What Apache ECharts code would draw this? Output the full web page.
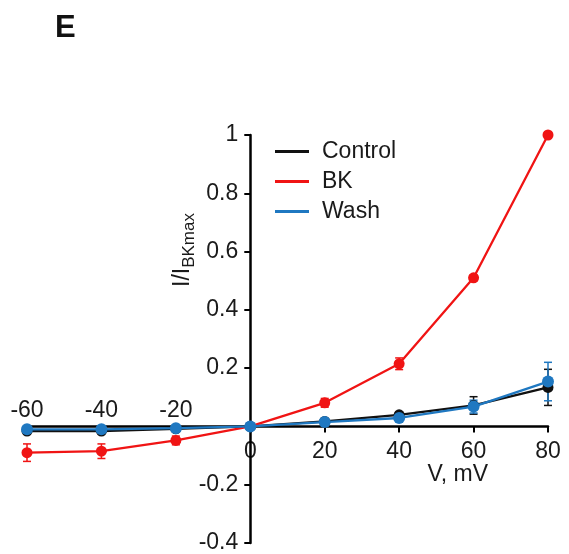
<!DOCTYPE html>
<html>
<head>
<meta charset="utf-8">
<script src="https://cdn.jsdelivr.net/npm/echarts@6/dist/echarts.min.js"></script>
<style>
  html, body { margin: 0; padding: 0; background: #fff; }
</style>
</head>
<body>
<div style="width:569px;height:554px;" id="iv_chart"></div>
<script>
  // voltage steps (mV)
  var voltages = [-60, -40, -20, 0, 20, 40, 60, 80]
  var controlMean = [-0.016, -0.016, -0.008, 0, 0.017, 0.04, 0.072, 0.134]
  var controlErr = [0.004, 0.004, 0.003, 0, 0.005, 0.01, 0.03, 0.062]
  var bkMean = [-0.09, -0.085, -0.048, 0, 0.081, 0.215, 0.51, 1.0]
  var bkErr = [0.03, 0.025, 0.015, 0, 0.015, 0.02, 0.01, 0.005]
  var washMean = [-0.01, -0.01, -0.006, 0, 0.015, 0.029, 0.068, 0.154]
  var washErr = [0.003, 0.003, 0.003, 0, 0.004, 0.006, 0.022, 0.066]
  var yTicks = [-0.4, -0.2, 0, 0.2, 0.4, 0.6, 0.8, 1]

  var chart = echarts.init(document.getElementById('iv_chart'))
  var font = 'Liberation Sans, Arial, sans-serif'

  // grid box, the axes cross at (0, 0) inside it
  var G = { left: 27, right: 21, top: 135, bottom: 11 }
  var W = 569 - G.left - G.right, H = 554 - G.top - G.bottom
  var xMin = -60, xMax = 80, yMin = yTicks[0], yMax = yTicks[yTicks.length - 1]
  var zeroX = W * (0 - xMin) / (xMax - xMin)
  var zeroY = H * (yMax - 0) / (yMax - yMin)

  function pairs(means) {
    return voltages.map(function (v, i) { return [v, means[i]] })
  }
  function errData(means, errs) {
    return voltages.map(function (v, i) { return [v, means[i] - errs[i], means[i] + errs[i]] })
  }
  function errSeries(name, color, means, errs) {
    return {
      name: name + ' sem',
      type: 'custom',
      data: errData(means, errs),
      z: 2,
      itemStyle: { color: color },
      renderItem: function (params, api) {
        var lo = api.coord([api.value(0), api.value(1)])
        var hi = api.coord([api.value(0), api.value(2)])
        var w = 4
        var st = { stroke: color, lineWidth: 1.5 }
        return {
          type: 'group',
          children: [
            { type: 'line', shape: { x1: lo[0], y1: lo[1], x2: hi[0], y2: hi[1] }, style: st },
            { type: 'line', shape: { x1: lo[0] - w, y1: lo[1], x2: lo[0] + w, y2: lo[1] }, style: st },
            { type: 'line', shape: { x1: hi[0] - w, y1: hi[1], x2: hi[0] + w, y2: hi[1] }, style: st }
          ]
        }
      }
    }
  }
  function lineSeries(name, color, means, size) {
    return {
      name: name,
      type: 'line',
      data: pairs(means),
      symbol: 'circle',
      symbolSize: size,
      z: 3,
      lineStyle: { color: color, width: 2.3 },
      itemStyle: { color: color },
      emphasis: { disabled: true }
    }
  }

  var colors = { control: '#111111', bk: '#f01414', wash: '#1f78c1' }

  chart.setOption({
    animation: false,
    backgroundColor: '#ffffff',
    textStyle: { fontFamily: font },
    grid: { left: G.left, right: G.right, top: G.top, bottom: G.bottom, containLabel: false, outerBoundsMode: 'none' },
    graphic: [
      { type: 'text', left: 55, top: 13, style: { text: 'E', font: 'bold 31px ' + font, fill: '#111' } }
    ],
    legend: {
      data: ['Control', 'BK', 'Wash'],
      orient: 'vertical',
      left: 270,
      top: 135,
      itemWidth: 34,
      itemHeight: 3,
      itemGap: 7,
      icon: 'rect',
      textStyle: { fontSize: 23, color: '#1a1a1a', fontFamily: font, padding: [0, 0, 0, 8] }
    },
    xAxis: [
      {
        type: 'value',
        min: xMin,
        max: xMax,
        interval: 20,
        position: 'bottom',
        offset: -(H - zeroY),
        name: 'V, mV',
        nameLocation: 'end',
        nameGap: -60,
        nameMoveOverlap: false,
        nameTextStyle: { fontSize: 23, color: '#1a1a1a', align: 'right', verticalAlign: 'top', padding: [37, 0, 0, 0] },
        axisLine: { onZero: false, lineStyle: { color: '#000', width: 2.5 } },
        axisTick: { show: true, length: 6, lineStyle: { color: '#000', width: 2 } },
        axisLabel: {
          fontSize: 23, color: '#1a1a1a', margin: 14,
          formatter: function (v) { return v >= 0 ? String(v) : '' }
        },
        splitLine: { show: false }
      },
      {
        type: 'value',
        min: xMin,
        max: xMax,
        interval: 20,
        position: 'top',
        offset: -zeroY,
        axisLine: { show: false, onZero: false },
        axisTick: { show: false },
        axisLabel: {
          fontSize: 23, color: '#1a1a1a', margin: 4,
          formatter: function (v) { return v < 0 ? String(v) : '' }
        },
        splitLine: { show: false }
      }
    ],
    yAxis: {
      type: 'value',
      min: yMin,
      max: yMax,
      interval: 0.2,
      position: 'left',
      offset: -zeroX,
      z: 3,
      name: '{a|I/I}{b|BKmax}',
      nameLocation: 'middle',
      nameRotate: 90,
      nameGap: 52,
      nameMoveOverlap: false,
      nameTextStyle: {
        padding: [0, 0, 0, 178],
        rich: {
          a: { fontSize: 23, color: '#1a1a1a', fontFamily: font },
          b: { fontSize: 17, color: '#1a1a1a', fontFamily: font, padding: [14, 0, 0, 0] }
        }
      },
      axisLine: { onZero: false, lineStyle: { color: '#000', width: 2.5 } },
      axisTick: { show: true, length: 6, lineStyle: { color: '#000', width: 2 } },
      axisLabel: {
        fontSize: 23, color: '#1a1a1a', margin: 12,
        formatter: function (v) { return Math.abs(v) < 1e-9 ? '' : String(+v.toFixed(1)) }
      },
      splitLine: { show: false }
    },
    series: [
      errSeries('Control', colors.control, controlMean, controlErr),
      errSeries('BK', colors.bk, bkMean, bkErr),
      errSeries('Wash', colors.wash, washMean, washErr),
      lineSeries('Control', colors.control, controlMean, 11),
      lineSeries('BK', colors.bk, bkMean, 11),
      lineSeries('Wash', colors.wash, washMean, 12)
    ]
  })
</script>
</body>
</html>
